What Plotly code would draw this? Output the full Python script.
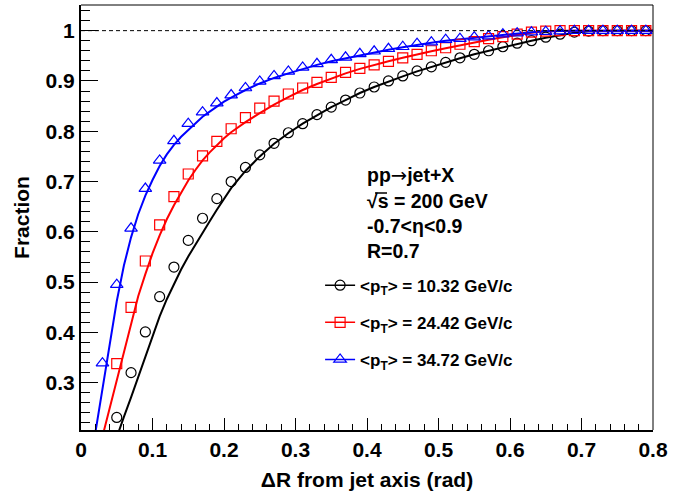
import plotly.graph_objects as go

# ---------------- data ----------------
# bin centres of the measured points
point_x = [0.03, 0.05, 0.07, 0.09, 0.11, 0.13, 0.15, 0.17, 0.19, 0.21,
           0.23, 0.25, 0.27, 0.29, 0.31, 0.33, 0.35, 0.37, 0.39, 0.41,
           0.43, 0.45, 0.47, 0.49, 0.51, 0.53, 0.55, 0.57, 0.59, 0.61,
           0.63, 0.65, 0.67, 0.69, 0.71, 0.73, 0.75, 0.77, 0.79]

pts_10 = [None, 0.231, 0.320, 0.401, 0.471, 0.530, 0.583, 0.627, 0.666, 0.700,
          0.728, 0.753, 0.776, 0.797, 0.815, 0.833, 0.848, 0.862, 0.876, 0.888,
          0.900, 0.910, 0.920, 0.928, 0.937, 0.946, 0.953, 0.960, 0.968, 0.975,
          0.980, 0.987, 0.993, 0.997, 0.999, 1.0, 1.0, 1.0, 1.0]

pts_24 = [None, 0.338, 0.450, 0.542, 0.614, 0.670, 0.715, 0.751, 0.780, 0.805,
          0.827, 0.846, 0.860, 0.874, 0.886, 0.897, 0.907, 0.917, 0.925, 0.932,
          0.939, 0.946, 0.953, 0.960, 0.966, 0.973, 0.978, 0.984, 0.988, 0.993,
          0.997, 0.999, 1.0, 1.0, 1.0, 1.0, 1.0, 1.0, 1.0]

pts_34 = [0.339, 0.495, 0.607, 0.686, 0.742, 0.781, 0.815, 0.838, 0.856, 0.872,
          0.886, 0.899, 0.910, 0.919, 0.927, 0.934, 0.942, 0.947, 0.954, 0.959,
          0.964, 0.968, 0.974, 0.977, 0.982, 0.984, 0.987, 0.989, 0.993, 0.995,
          0.997, 0.998, 0.999, 1.0, 1.0, 1.0, 1.0, 1.0, 1.0]

# smooth curves drawn through the points
curve_x = [0.02, 0.03, 0.04, 0.05, 0.06, 0.07, 0.08, 0.09, 0.10, 0.11,
           0.12, 0.13, 0.14, 0.15, 0.16, 0.17, 0.18, 0.19, 0.20, 0.21,
           0.23, 0.25, 0.27, 0.29, 0.31, 0.33, 0.35, 0.37, 0.39, 0.41,
           0.43, 0.45, 0.47, 0.49, 0.51, 0.53, 0.55, 0.57, 0.59, 0.61,
           0.63, 0.65, 0.67, 0.69, 0.71, 0.73, 0.75, 0.77, 0.80]

curve_10 = [None, None, 0.151, 0.193, 0.232, 0.271, 0.312, 0.352, 0.393, 0.432,
            0.466, 0.497, 0.525, 0.551, 0.575, 0.598, 0.621, 0.644, 0.666, 0.687,
            0.721, 0.750, 0.775, 0.796, 0.815, 0.832, 0.848, 0.862, 0.876, 0.888,
            0.899, 0.909, 0.919, 0.928, 0.937, 0.945, 0.953, 0.960, 0.967, 0.974,
            0.980, 0.986, 0.991, 0.996, 0.999, 1.0, 1.0, 1.0, 1.0]

curve_24 = [None, 0.193, 0.250, 0.306, 0.363, 0.420, 0.472, 0.516, 0.557, 0.593,
            0.625, 0.653, 0.679, 0.702, 0.723, 0.742, 0.758, 0.773, 0.786, 0.798,
            0.818, 0.836, 0.853, 0.868, 0.882, 0.894, 0.905, 0.915, 0.924, 0.932,
            0.939, 0.946, 0.953, 0.959, 0.965, 0.971, 0.977, 0.982, 0.987, 0.992,
            0.996, 0.999, 1.0, 1.0, 1.0, 1.0, 1.0, 1.0, 1.0]

curve_34 = [0.200, 0.288, 0.377, 0.462, 0.533, 0.589, 0.635, 0.672, 0.703, 0.731,
            0.754, 0.773, 0.789, 0.803, 0.817, 0.829, 0.839, 0.849, 0.859, 0.867,
            0.882, 0.895, 0.906, 0.915, 0.924, 0.932, 0.939, 0.945, 0.951, 0.957,
            0.962, 0.967, 0.972, 0.976, 0.980, 0.983, 0.986, 0.989, 0.992, 0.995,
            0.997, 0.999, 1.0, 1.0, 1.0, 1.0, 1.0, 1.0, 1.0]

series_names = ["&lt;p<sub>T</sub>&gt; = 10.32 GeV/c",
                "&lt;p<sub>T</sub>&gt; = 24.42 GeV/c",
                "&lt;p<sub>T</sub>&gt; = 34.72 GeV/c"]
series_colors = ["#000000", "#ff0000", "#0000ff"]
series_symbols = ["circle-open", "square-open", "triangle-up-open"]
series_sizes = [10, 10, 11]

x_ticks = [0, 0.1, 0.2, 0.3, 0.4, 0.5, 0.6, 0.7, 0.8]
x_ticktext = ["0", "0.1", "0.2", "0.3", "0.4", "0.5", "0.6", "0.7", "0.8"]
y_ticks = [0.3, 0.4, 0.5, 0.6, 0.7, 0.8, 0.9, 1.0]
y_ticktext = ["0.3", "0.4", "0.5", "0.6", "0.7", "0.8", "0.9", "1"]

info_lines = ["pp<span style='font-family:DejaVu Sans;font-weight:normal'>→</span>jet+X",
              "√s = 200 GeV",
              "-0.7&lt;η&lt;0.9",
              "R=0.7"]

FONT = "Liberation Sans, Arial, Helvetica, sans-serif"

# plot-area pixel geometry (for paper-coordinate decorations)
PL, PR, PT, PB = 81, 653, 5, 430


def px_to_paper(px, py):
    return (px - PL) / (PR - PL), (PB - py) / (PB - PT)


# ---------------- figure ----------------
fig = go.Figure()

points = [pts_10, pts_24, pts_34]
curves = [curve_10, curve_24, curve_34]

for i in range(3):
    fig.add_trace(go.Scatter(
        x=curve_x, y=curves[i], mode="lines",
        line=dict(color=series_colors[i], width=2),
        showlegend=False, hoverinfo="skip"))
for i in range(3):
    fig.add_trace(go.Scatter(
        x=point_x, y=points[i], mode="markers",
        marker=dict(symbol=series_symbols[i], size=series_sizes[i],
                    color=series_colors[i], line=dict(width=1.2, color=series_colors[i])),
        showlegend=False, cliponaxis=True))
# legend entries (line + marker)
for i in range(3):
    fig.add_trace(go.Scatter(
        x=[None], y=[None], mode="lines+markers", name=series_names[i],
        line=dict(color=series_colors[i], width=1.5),
        marker=dict(symbol=series_symbols[i], size=series_sizes[i],
                    color=series_colors[i], line=dict(width=1.2, color=series_colors[i])),
        legendgroup=str(i), showlegend=True))

# dashed reference line at 1
fig.add_shape(type="line", xref="paper", yref="y", x0=0, x1=1, y0=1, y1=1,
              line=dict(color="black", width=1, dash="4px,3px"))
# top and right frame lines (thin)
fig.add_shape(type="line", xref="paper", yref="paper", x0=0, x1=1, y0=1, y1=1,
              line=dict(color="black", width=1))
fig.add_shape(type="line", xref="paper", yref="paper", x0=1, x1=1, y0=0, y1=1,
              line=dict(color="black", width=1))

for k, txt in enumerate(info_lines):
    fig.add_annotation(xref="paper", yref="paper", x=0.496, y=0.598 - k * 0.0588,
                       xanchor="left", yanchor="middle", showarrow=False,
                       text=txt, font=dict(family=FONT, size=19.5, color="black", weight="bold"))

# bar of the square-root sign over "s"
bx0, by = px_to_paper(375, 193)
bx1, _ = px_to_paper(387, 193)
fig.add_shape(type="line", xref="paper", yref="paper", x0=bx0, x1=bx1, y0=by, y1=by,
              line=dict(color="black", width=1.5))

fig.update_layout(
    width=686, height=494,
    margin=dict(l=PL, r=686 - PR, t=PT, b=494 - PB, autoexpand=False),
    paper_bgcolor="white", plot_bgcolor="white",
    font=dict(family=FONT, color="black"),
    legend=dict(x=0.418, y=0.382, xanchor="left", yanchor="top",
                bgcolor="rgba(0,0,0,0)", tracegroupgap=12,
                font=dict(family=FONT, size=17, weight="bold")),
    xaxis=dict(range=[0, 0.8], showgrid=False, zeroline=False, automargin=False,
               showline=True, linecolor="black", linewidth=2,
               ticks="inside", ticklen=12, tickwidth=1, tickcolor="black",
               tickvals=x_ticks, ticktext=x_ticktext,
               minor=dict(ticks="inside", ticklen=6, dtick=0.02, tick0=0, tickcolor="black"),
               tickfont=dict(family=FONT, size=21, weight="bold"),
               title=dict(text="ΔR from jet axis (rad)", standoff=12,
                          font=dict(family=FONT, size=21, weight="bold"))),
    yaxis=dict(range=[0.206, 1.051], showgrid=False, zeroline=False, automargin=False,
               showline=True, linecolor="black", linewidth=2,
               ticks="inside", ticklen=17, tickwidth=1, tickcolor="black",
               tickvals=y_ticks, ticktext=y_ticktext,
               minor=dict(ticks="inside", ticklen=9, dtick=0.02, tick0=0, tickcolor="black"),
               tickfont=dict(family=FONT, size=21, weight="bold"),
               title=dict(text="Fraction", standoff=10,
                          font=dict(family=FONT, size=21, weight="bold"))),
)

fig.write_html("out.html",
               config={"displayModeBar": False},
               post_script="document.body.style.margin='0px';document.body.style.overflow='hidden';")
